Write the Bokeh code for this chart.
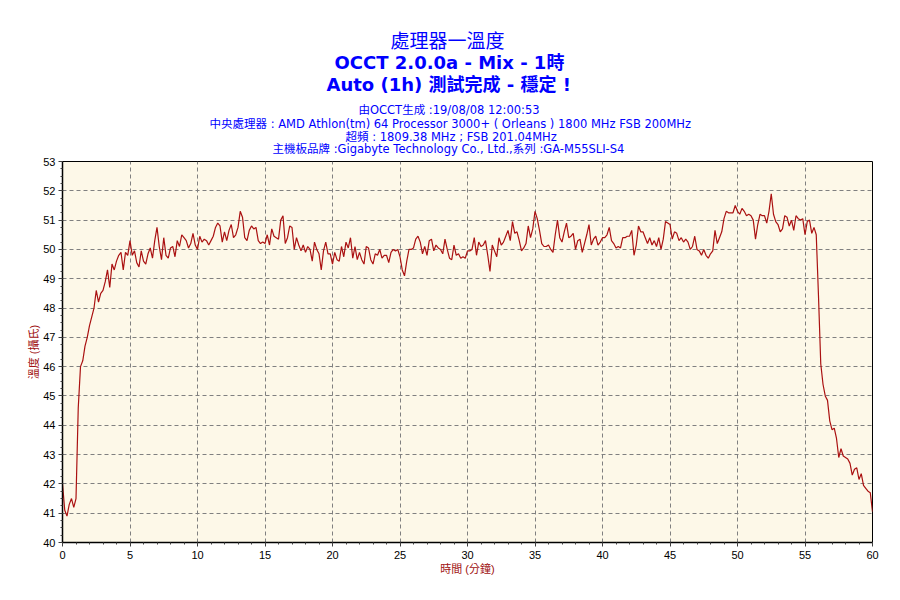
from bokeh.plotting import figure
from bokeh.models import Range1d, Title, SingleIntervalTicker
from bokeh.embed import file_html
from bokeh.resources import INLINE

# ---- data: CPU temperature (°C), one reading every 10 seconds ----
sample_minutes = 1.0 / 6.0
temps_00_10 = [
    42.0, 41.1, 40.9, 41.3, 41.5, 41.2,
    41.5, 44.6, 46.0, 46.2, 46.7, 47.0,
    47.4, 47.7, 48.0, 48.6, 48.2, 48.5,
    48.6, 48.9, 49.3, 48.7, 49.5, 49.3,
    49.6, 49.8, 49.9, 49.3, 49.9, 49.8,
    50.3, 49.8, 49.95, 49.55, 49.4, 49.95,
    49.6, 49.5, 49.85, 50.05, 49.7, 50.3,
    50.75, 50.1, 49.65, 50.4, 49.8, 49.7,
    50.05, 50.1, 49.75, 50.3, 50.1, 50.5,
    50.4, 50.3, 50.05, 50.2, 50.55, 50.15,
]
temps_10_20 = [
    50.0, 50.45, 50.25, 50.35, 50.3, 50.15,
    50.3, 50.45, 50.75, 50.9, 50.8, 50.25,
    50.6, 50.3, 50.65, 50.85, 50.4, 50.5,
    50.75, 51.3, 51.1, 50.4, 50.3, 50.65,
    50.8, 50.7, 50.75, 50.3, 50.2, 50.25,
    50.2, 50.5, 50.15, 50.7, 50.45, 50.4,
    50.35, 51.0, 51.15, 50.2, 50.4, 50.8,
    50.75, 50.0, 50.4, 50.15, 49.95, 50.15,
    49.9, 50.1, 50.0, 49.6, 50.25, 50.0,
    49.85, 49.3, 49.95, 50.25, 49.85, 49.85,
]
temps_20_30 = [
    49.5, 49.9, 49.65, 49.6, 50.1, 49.75,
    50.25, 50.05, 50.4, 49.7, 50.1, 49.65,
    49.9, 49.65, 49.5, 50.1, 50.05, 49.65,
    49.5, 49.85, 49.8, 50.0, 49.7, 49.8,
    49.8, 49.55, 49.9, 50.0, 49.95, 50.0,
    49.75, 49.3, 49.1, 49.6, 50.0, 50.0,
    50.05, 50.35, 50.45, 50.25, 49.85, 50.1,
    49.8, 50.3, 50.35, 49.95, 50.15, 50.05,
    50.0, 49.85, 50.35, 50.0, 49.7, 49.65,
    50.15, 49.8, 49.85, 49.7, 49.75, 49.7,
]
temps_30_40 = [
    49.95, 49.95, 50.0, 50.4, 49.8, 50.25,
    50.1, 50.15, 50.3, 49.8, 49.25, 50.15,
    49.95, 49.75, 50.4, 50.15, 50.25, 50.45,
    50.65, 50.3, 50.95, 50.55, 50.6, 50.3,
    49.95, 50.05, 50.2, 50.8, 50.4, 50.7,
    51.3, 51.05, 50.65, 50.2, 50.1, 50.1,
    50.15, 50.0, 49.9, 50.5, 51.0, 50.4,
    50.25, 50.6, 50.9, 50.4, 50.45, 50.55,
    50.0, 50.3, 50.35, 49.9, 50.2, 50.5,
    50.85, 50.15, 50.35, 50.45, 50.15, 50.25,
]
temps_40_50 = [
    50.4, 50.4, 50.5, 50.75, 50.3, 50.2,
    50.05, 50.1, 50.05, 50.4, 50.4, 50.45,
    50.45, 50.65, 49.8, 50.15, 50.8, 50.6,
    50.6, 50.4, 50.2, 50.4, 50.15, 50.3,
    50.1, 50.4, 50.0, 50.35, 50.95, 50.9,
    50.85, 50.35, 50.6, 50.55, 50.3, 50.4,
    50.25, 50.35, 50.25, 50.0, 50.1, 50.45,
    50.0, 49.95, 49.8, 50.0, 49.8, 49.7,
    49.85, 49.95, 50.65, 50.2, 50.4, 50.6,
    51.05, 51.3, 51.25, 51.25, 51.25, 51.5,
]
temps_50_60 = [
    51.3, 51.2, 51.4, 51.3, 51.15, 51.2,
    51.15, 51.0, 50.35, 50.85, 51.2, 51.15,
    51.15, 50.9, 51.3, 51.9, 51.2, 50.95,
    50.85, 50.6, 50.7, 51.15, 51.1, 50.8,
    51.0, 50.65, 51.15, 51.05, 51.0, 51.05,
    50.5, 50.95, 51.0, 50.55, 50.75, 50.5,
    48.4, 46.1, 45.4, 45.0, 44.85, 44.15,
    43.85, 43.9, 43.55, 42.9, 43.2, 42.95,
    42.9, 42.85, 42.7, 42.3, 42.5, 42.55,
    42.15, 42.35, 41.95, 41.85, 41.75, 41.7,
    41.05,
]
temps = temps_00_10 + temps_10_20 + temps_20_30 + temps_30_40 + temps_40_50 + temps_50_60
times = [i * sample_minutes for i in range(len(temps))]

title_lines = [
    "處理器一溫度",
    "OCCT 2.0.0a - Mix - 1時",
    "Auto (1h) 測試完成 - 穩定 !",
    "由OCCT生成 :19/08/08 12:00:53",
    "中央處理器 : AMD Athlon(tm) 64 Processor 3000+ ( Orleans ) 1800 MHz FSB 200MHz",
    "超頻 : 1809.38 MHz ; FSB 201.04MHz",
    "主機板品牌 :Gigabyte Technology Co., Ltd.,系列 :GA-M55SLI-S4",
]
x_label = "時間 (分鐘)"
y_label = "溫度 (攝氏)"

FONT = "'Liberation Sans', 'Noto Sans CJK TC', sans-serif"
TFONT = "'DejaVu Sans', 'Noto Sans CJK TC', sans-serif"
BLUE = "#0000ff"
RED = "#a01010"

p = figure(width=884, height=584, output_backend="svg", toolbar_location=None,
           x_range=Range1d(0, 60), y_range=Range1d(40, 53),
           min_border_left=62, min_border_right=12,
           min_border_top=161, min_border_bottom=42)
p.background_fill_color = "#fdf8e8"
p.border_fill_color = "white"
p.outline_line_color = "black"
p.outline_line_width = 1

p.line(times, temps, line_color="#aa1111", line_width=1.2)

p.xaxis.ticker = SingleIntervalTicker(interval=5, num_minor_ticks=5)
p.yaxis.ticker = SingleIntervalTicker(interval=1, num_minor_ticks=4)

for ax in (p.xaxis, p.yaxis):
    ax.axis_line_color = "black"
    ax.axis_line_width = 1.5
    ax.major_tick_in = 0
    ax.major_tick_out = 4
    ax.minor_tick_in = 0
    ax.minor_tick_out = 2
    ax.major_tick_line_color = "#404040"
    ax.minor_tick_line_color = "#404040"
    ax.major_label_text_font = FONT
    ax.major_label_text_font_size = "11px"
    ax.major_label_text_color = "black"
    ax.axis_label_text_font = FONT
    ax.axis_label_text_font_size = "11px"
    ax.axis_label_text_font_style = "normal"
    ax.axis_label_text_color = RED

p.xaxis.major_label_standoff = 4
p.xaxis.axis_label_standoff = 1
p.yaxis.major_label_standoff = 3
p.yaxis.axis_label_standoff = 0

p.xaxis.axis_label = x_label
p.yaxis.axis_label = y_label

p.grid.grid_line_color = "#808080"
p.grid.grid_line_dash = "4 3"
p.grid.grid_line_width = 1

# spacer between the frame and the title block
p.add_layout(Title(text=" ", text_font_size="2px", standoff=3.6,
                   vertical_align="middle"), "above")

# title block, from the plot upwards: (text, size, style, standoff, left offset from frame)
title_specs = [
    (title_lines[6], "11.5px", "normal", -5.8, 210),
    (title_lines[5], "11.5px", "normal", -1.8, 283),
    (title_lines[4], "11.5px", "normal", -3.8, 147),
    (title_lines[3], "11.5px", "normal", 0.2, 296),
    (title_lines[2], "18px", "bold", 12.4, 264),
    (title_lines[1], "18px", "bold", -13.6, 272),
    (title_lines[0], "19px", "normal", 9.2, 328),
]
for txt, size, style, standoff, off in title_specs:
    p.add_layout(Title(text=txt, align="left", vertical_align="middle",
                       offset=off, standoff=standoff,
                       text_font=TFONT, text_font_size=size, text_font_style=style,
                       text_color=BLUE), "above")

open("out.html", "w").write(file_html(p, INLINE))
